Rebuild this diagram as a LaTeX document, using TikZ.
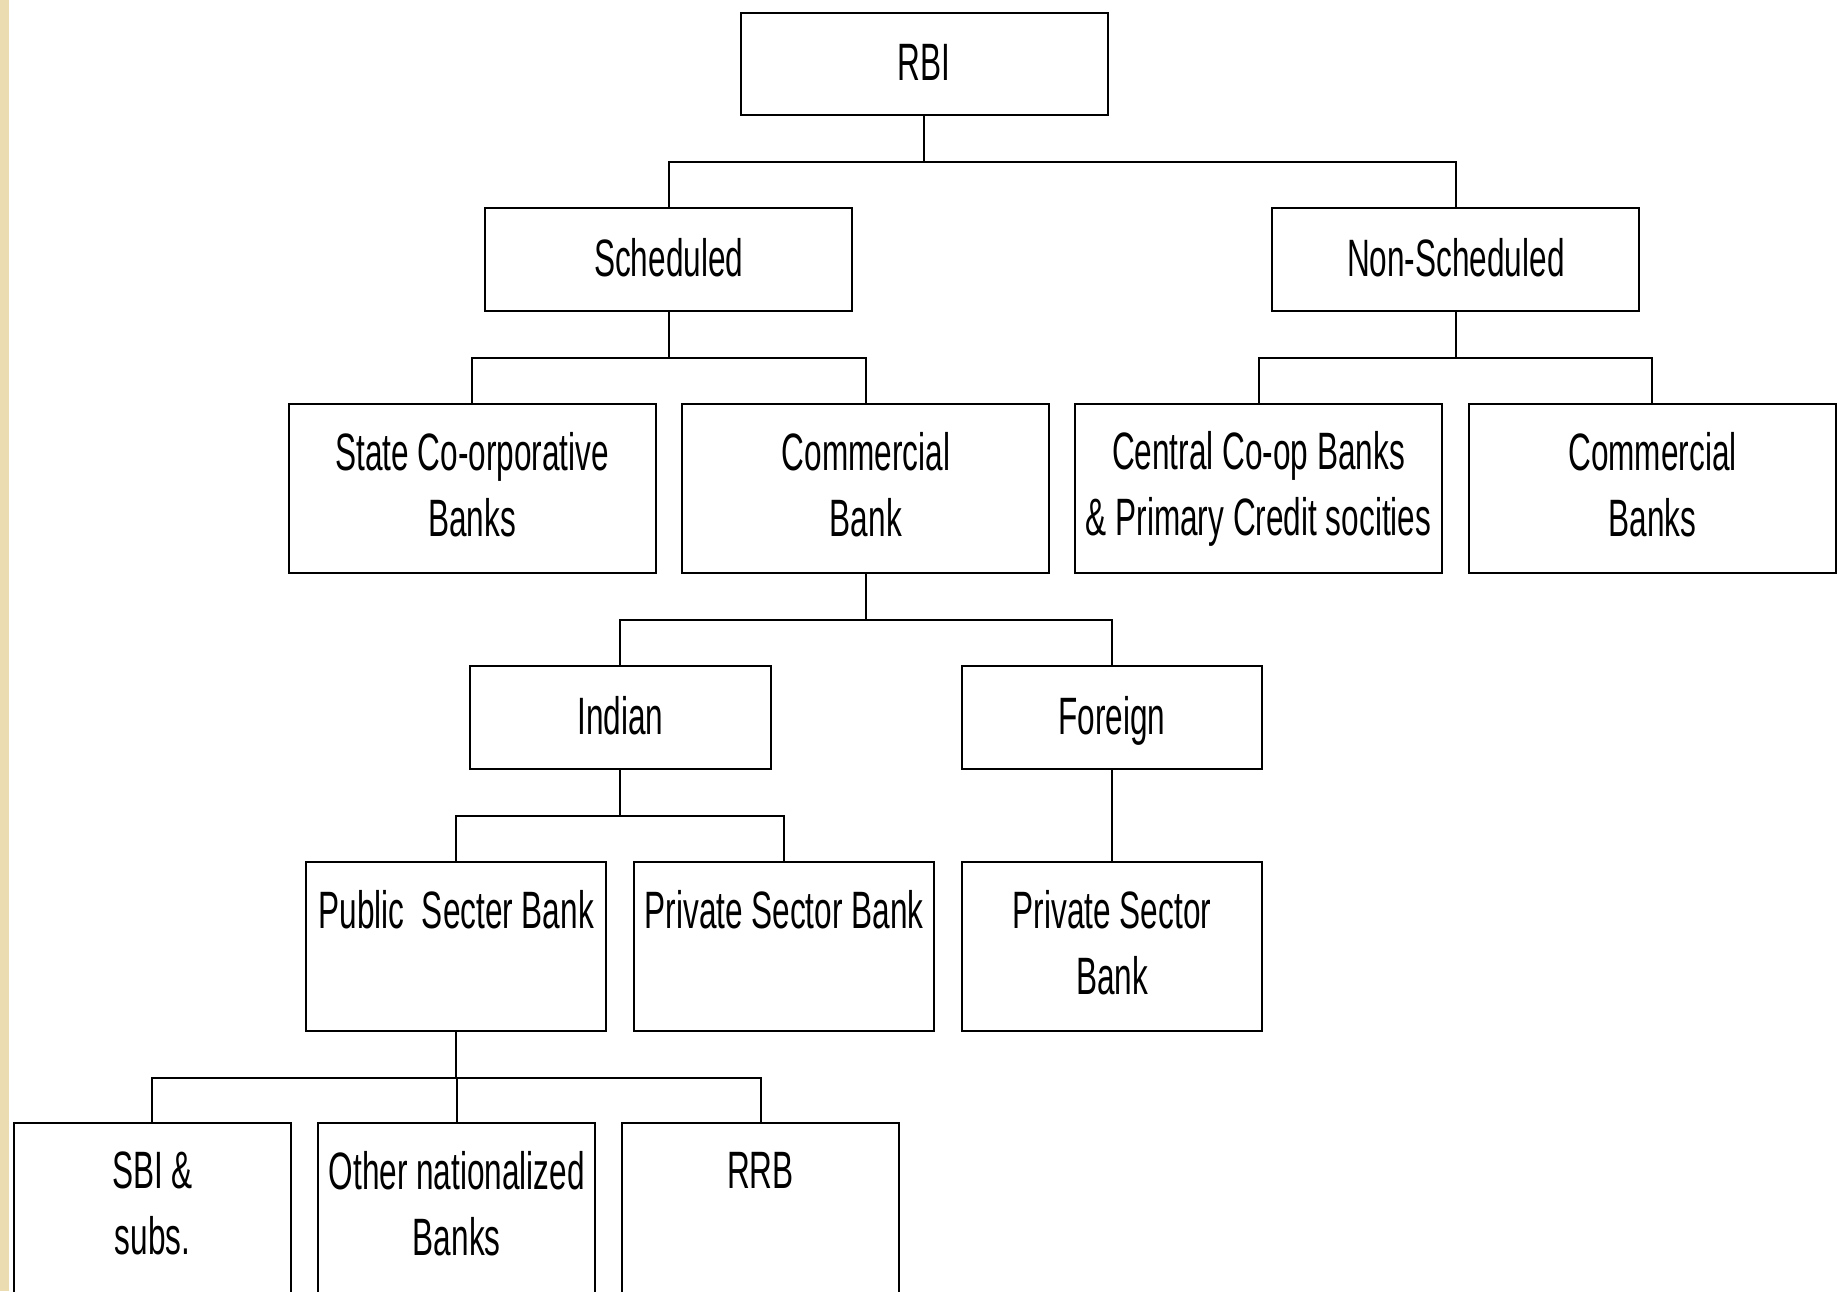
\documentclass[tikz,border=0pt]{standalone}
\usepackage{fontspec}
\setmainfont[FakeStretch=0.6]{Liberation Sans}
\usetikzlibrary{calc}
\definecolor{parchment}{RGB}{236,220,178}
\tikzset{
bank/.style={draw=black, line width=2pt, inner sep=0pt, align=center,
  font=\fontsize{52.6}{66}\selectfont},
smallbank/.style={bank, minimum height=102.4pt,
  execute at begin node={\rule{0pt}{49.5pt}},
  execute at end node={\rule[-16.5pt]{0pt}{16.5pt}}},
tallbank/.style={bank, minimum height=169.5pt,
  execute at begin node={\rule{0pt}{56pt}},
  execute at end node={\rule[-9pt]{0pt}{9pt}}},
link/.style={draw=black, line width=2pt},
}
\newcommand{\bankbox}[6]{%
\node[#5, minimum width=#4pt] (#1) at (#2,#3) {#6};
}
\newcommand{\linkdown}[2]{%
\draw[link] (#1.south) -- ++(0,46) -| (#2.north);
}

\begin{document}
\begin{tikzpicture}[x=1pt, y=-1pt]

\useasboundingbox (0,0) rectangle (1846,1291);
\fill[parchment] (0,0) rectangle (9,1291);

% level 1 and 2
\bankbox{rbi}{924.2}{64.2}{367}{smallbank}{RBI}
\bankbox{sched}{668.7}{259.6}{367}{smallbank}{Scheduled}
\bankbox{nonsched}{1455.8}{259.6}{367}{smallbank}{Non-Scheduled}

% level 3
\bankbox{stateco}{472.1}{488.5}{367}{tallbank}{State Co-orporative\\Banks}
\bankbox{commbank}{865.9}{488.5}{367}{tallbank}{Commercial\\Bank}
\bankbox{centralco}{1258.5}{488.5}{367}{tallbank}{Central Co-op Banks\\\& Primary Credit socities}
\bankbox{commbanks}{1652.4}{488.5}{367}{tallbank}{Commercial\\Banks}

% level 4
\bankbox{indian}{620.4}{717.6}{301}{smallbank}{Indian}
\bankbox{foreign}{1112}{717.6}{300}{smallbank}{Foreign}

% level 5
\bankbox{public}{456.2}{946.5}{300}{tallbank}{Public\ \ Secter Bank\\~}
\bankbox{private}{784.1}{946.5}{300}{tallbank}{Private Sector Bank\\~}
\bankbox{privatef}{1112}{946.5}{300}{tallbank}{Private Sector\\Bank}

% level 6
\bankbox{sbi}{152.4}{1207.9}{277}{tallbank}{SBI \&\\subs.}
\bankbox{othernat}{456.8}{1207.9}{277}{tallbank}{Other nationalized\\Banks}
\bankbox{rrb}{760.5}{1207.9}{277}{tallbank}{RRB\\~}

\linkdown{rbi}{sched}
\linkdown{rbi}{nonsched}
\linkdown{sched}{stateco}
\linkdown{sched}{commbank}
\linkdown{nonsched}{centralco}
\linkdown{nonsched}{commbanks}
\linkdown{commbank}{indian}
\linkdown{commbank}{foreign}
\linkdown{indian}{public}
\linkdown{indian}{private}
\draw[link] (foreign.south) -- (privatef.north);
\linkdown{public}{sbi}
\linkdown{public}{othernat}
\linkdown{public}{rrb}

\end{tikzpicture}
\end{document}
